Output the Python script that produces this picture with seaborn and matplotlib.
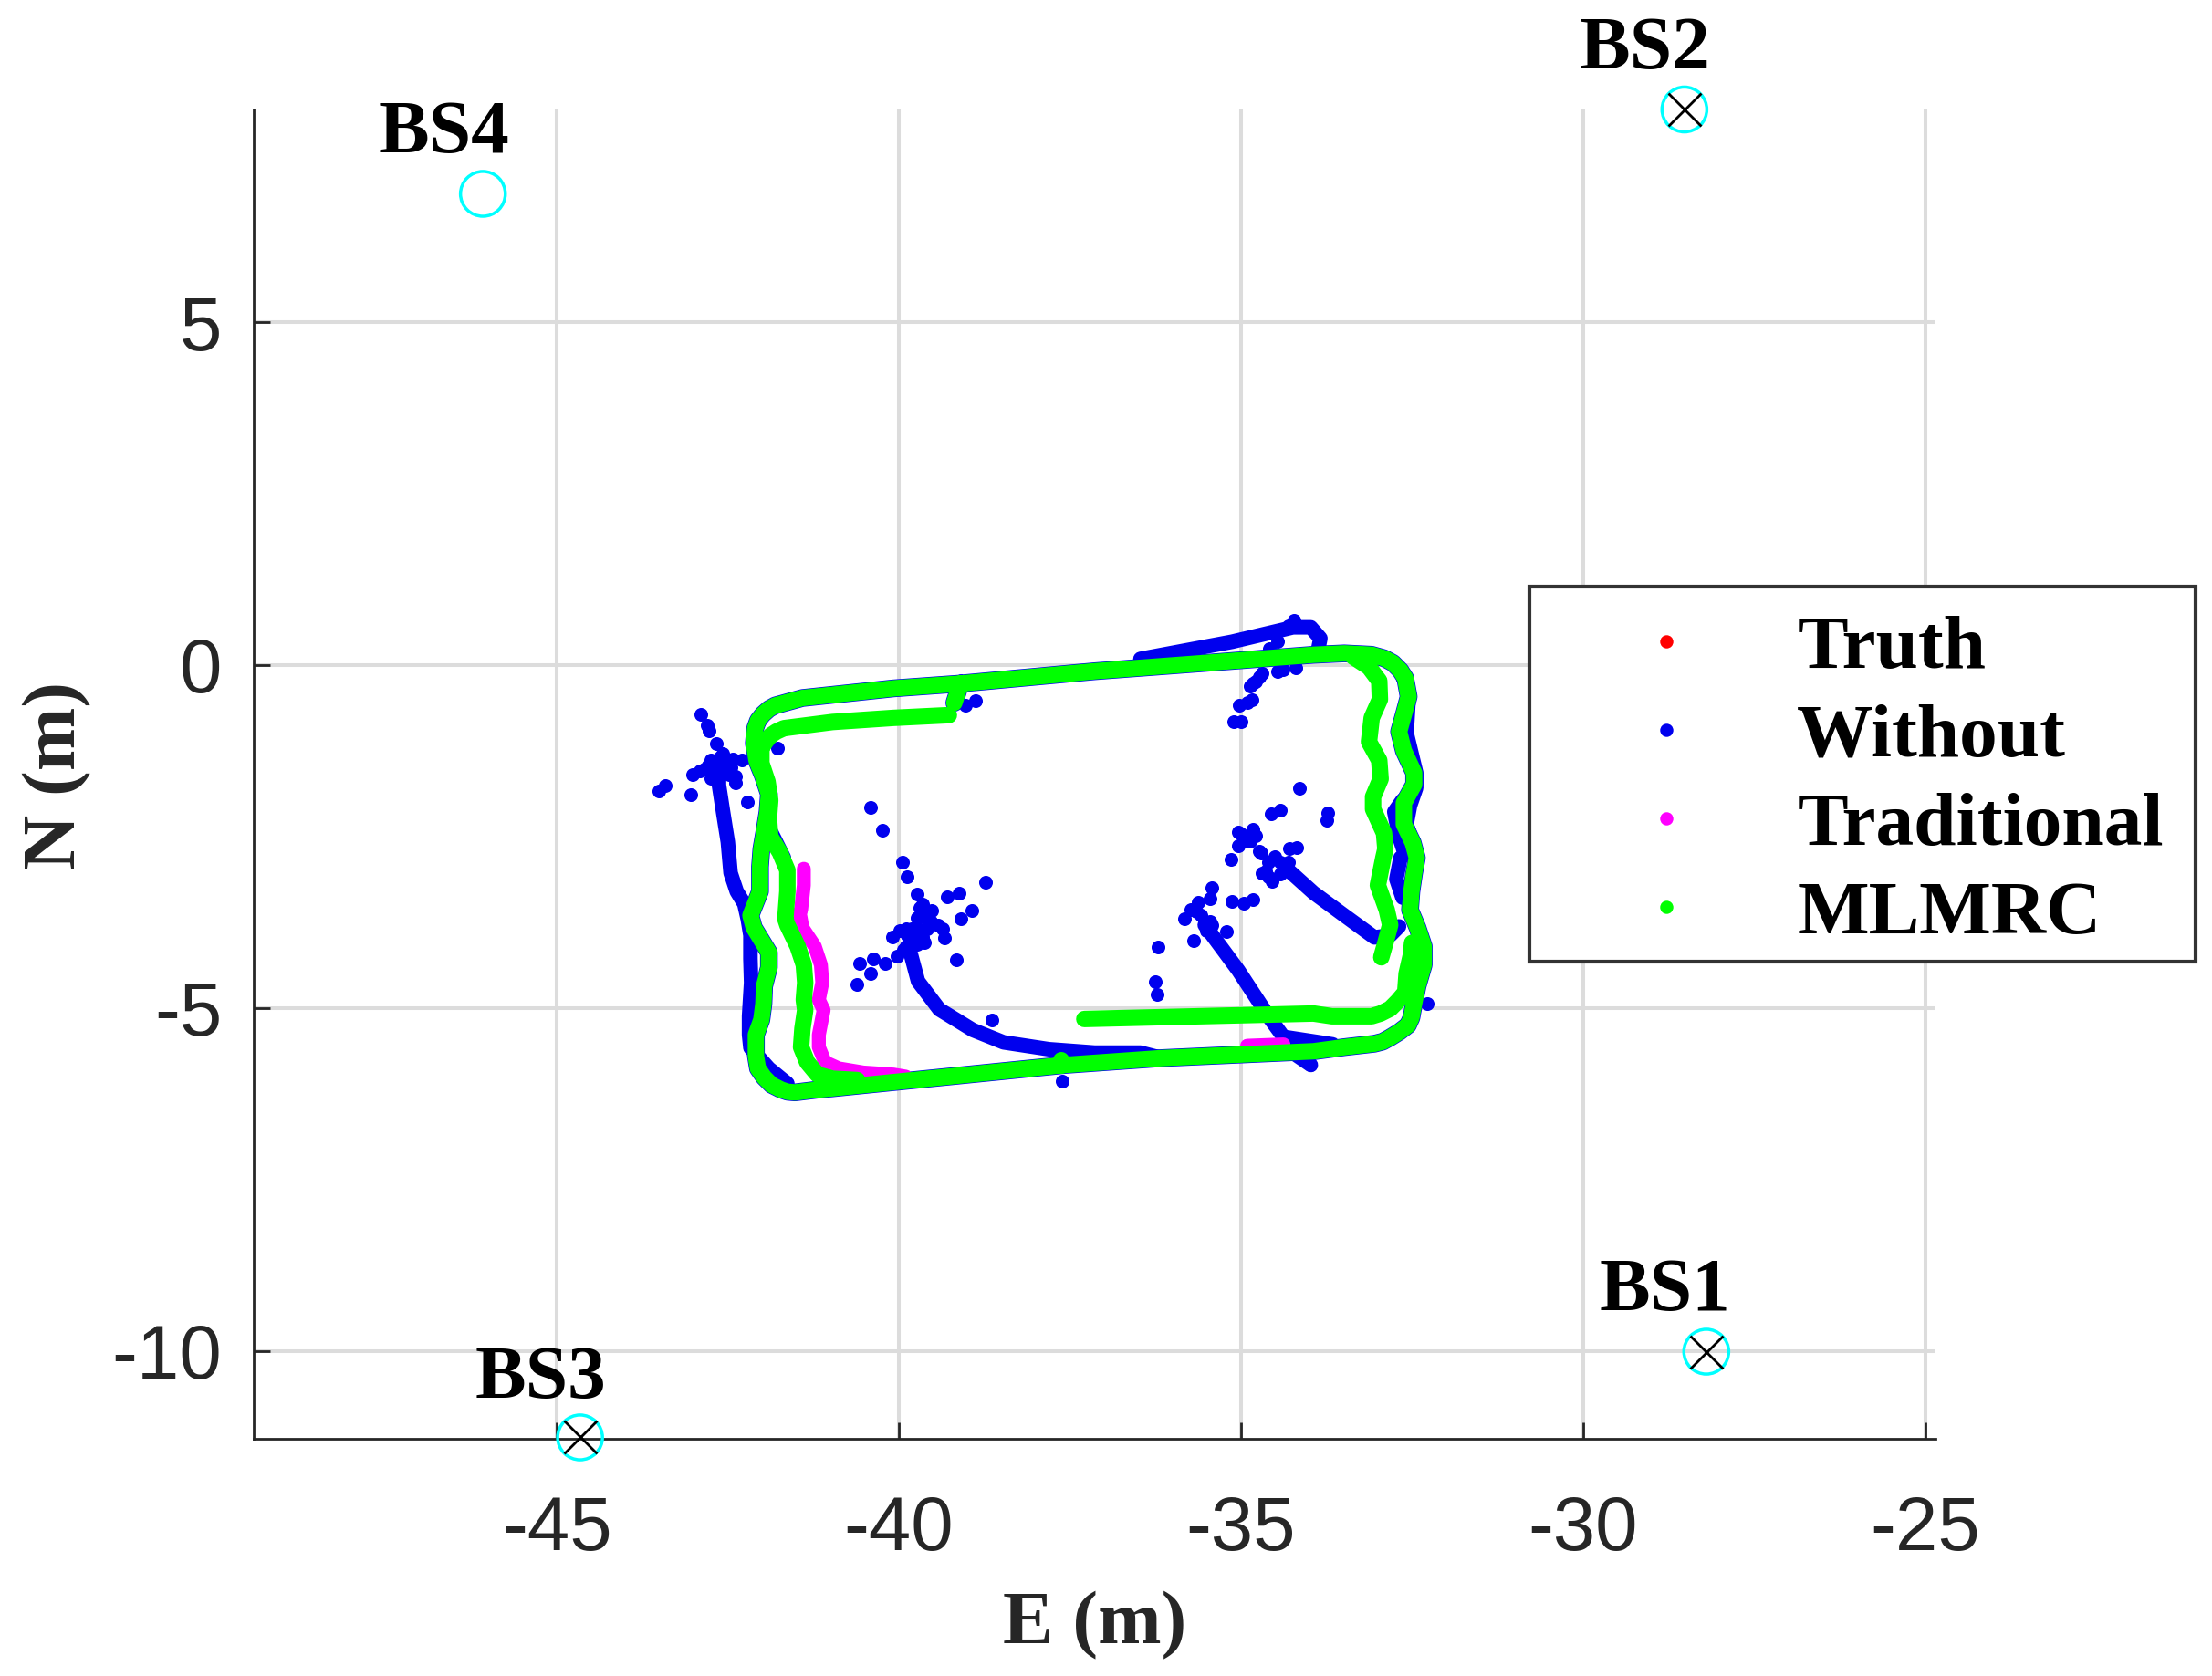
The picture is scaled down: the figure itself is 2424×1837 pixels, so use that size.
import matplotlib
matplotlib.use("Agg")
import matplotlib.pyplot as plt
from matplotlib.lines import Line2D
from matplotlib.patches import Rectangle
import pandas as pd
import seaborn as sns

# ---------- values (E, N in metres) ----------
bs_names = ["BS1", "BS2", "BS3", "BS4"]
bs_e = [-28.2, -28.52, -44.66, -46.08]
bs_n = [-10.01, 8.1, -11.26, 6.87]
bs_crossed = [True, True, True, False]

mlmrc_outer = [(-39.19,-0.55),(-39.1,-0.27),(-40.08,-0.34),(-41.41,-0.48),(-41.81,-0.59),(-41.90,-0.64),(-41.99,-0.72),
    (-42.06,-0.81),(-42.10,-0.92),(-42.12,-1.14),(-42.08,-1.39),(-41.99,-1.61),(-41.90,-1.88),(-41.92,-2.14),
    (-41.97,-2.45),(-42.01,-2.68),(-42.03,-2.94),(-42.03,-3.30),(-42.17,-3.65),(-42.12,-3.83),(-42.01,-4.01),
    (-41.90,-4.19),(-41.90,-4.41),(-41.97,-4.68),(-41.98,-4.94),(-42.01,-5.17),(-42.09,-5.39),(-42.09,-5.70),
    (-42.06,-5.88),(-41.97,-6.01),(-41.86,-6.12),(-41.72,-6.19),(-41.63,-6.22),(-41.52,-6.23),(-41.19,-6.19),
    (-40.97,-6.17),(-40.08,-6.08),(-37.58,-5.83),(-36.16,-5.73),(-33.94,-5.63),(-33.49,-5.57),(-33.05,-5.52),
    (-32.93,-5.49),(-32.82,-5.43),(-32.69,-5.35),(-32.56,-5.25),(-32.51,-5.14),(-32.49,-5.03),(-32.42,-4.68),
    (-32.33,-4.37),(-32.33,-4.10),(-32.42,-3.83),(-32.53,-3.57),(-32.51,-3.30),(-32.47,-3.03),(-32.43,-2.81),
    (-32.49,-2.59),(-32.62,-2.32),(-32.62,-2.01),(-32.47,-1.74),(-32.47,-1.57),(-32.62,-1.25),(-32.69,-0.97),
    (-32.62,-0.72),(-32.55,-0.46),(-32.60,-0.19),(-32.67,-0.08),(-32.78,0.03),(-32.91,0.10),(-33.09,0.15),
    (-33.49,0.17),(-33.94,0.15),(-35.13,0.06),(-37.14,-0.09),(-39.1,-0.27)]
mlmrc_inner_left = [(-39.27,-0.73),(-40.08,-0.77),(-40.97,-0.83),(-41.68,-0.92),(-41.79,-0.97),(-41.88,-1.03),
    (-41.95,-1.12),(-42.01,-1.21),(-42.01,-1.43),(-41.92,-1.70),(-41.88,-1.97),(-41.90,-2.23),(-41.88,-2.50),
    (-41.74,-2.73),(-41.63,-2.99),(-41.63,-3.30),(-41.66,-3.70),(-41.63,-3.79),(-41.48,-4.10),(-41.39,-4.37),
    (-41.37,-4.63),(-41.39,-4.88),(-41.37,-5.03),(-41.41,-5.30),(-41.43,-5.57),(-41.34,-5.79),(-41.19,-5.97),
    (-40.97,-6.03),(-40.61,-6.05)]
mlmrc_inner_right = [(-32.95,-4.26),(-32.89,-4.05),(-32.82,-3.79),(-32.87,-3.57),(-33.0,-3.21),(-32.92,-2.81),
    (-32.89,-2.68),(-32.91,-2.45),(-33.07,-2.10),(-33.07,-1.92),(-32.96,-1.66),(-32.98,-1.39),(-33.13,-1.12),
    (-33.09,-0.77),(-32.97,-0.50),(-32.98,-0.23),(-33.13,-0.03),(-33.36,0.12)]
mlmrc_inner_bottom = [(-37.29,-5.16),(-33.94,-5.08),(-33.67,-5.12),(-33.09,-5.12),(-32.96,-5.08),(-32.82,-5.01),
    (-32.71,-4.90),(-32.60,-4.77),(-32.58,-4.50),(-32.52,-4.24),(-32.5,-4.05)]
mlmrc_bump = [(-37.63,-5.76),(-37.63,-5.84)]

traditional_left = [(-41.39,-2.97),(-41.39,-3.21),(-41.43,-3.57),(-41.45,-3.61),(-41.41,-3.83),(-41.23,-4.10),
    (-41.14,-4.37),(-41.12,-4.63),(-41.17,-4.88),(-41.10,-5.03),(-41.17,-5.39),(-41.17,-5.57),(-41.08,-5.79),
    (-40.88,-5.88),(-40.52,-5.94),(-40.08,-5.97),(-39.9,-6.0)]
traditional_bottom = [(-34.91,-5.55),(-34.38,-5.53)]

without_left = [(-42.63,-1.49),(-42.63,-1.75),(-42.57,-2.14),(-42.50,-2.58),(-42.46,-3.03),(-42.37,-3.30),
    (-42.26,-3.48),(-42.21,-3.70),(-42.17,-3.94),(-42.17,-4.28),(-42.16,-4.63),(-42.19,-5.12),(-42.19,-5.39),
    (-42.17,-5.58),(-41.9,-5.88),(-41.63,-6.10)]
without_centre = [(-39.83,-4.2),(-39.72,-4.61),(-39.41,-5.02),(-38.92,-5.32),(-38.47,-5.5),(-37.81,-5.6),
    (-37.14,-5.65),(-36.47,-5.65),(-36.16,-5.73)]
without_mid = [(-35.53,-3.79),(-35.04,-4.45),(-34.6,-5.12),(-34.38,-5.42),(-33.66,-5.53)]
without_spur = [(-34.2,-5.68),(-33.98,-5.83)]
without_right = [(-34.33,-2.97),(-33.94,-3.32),(-33.49,-3.65),(-33.05,-3.97),(-32.82,-3.94),(-32.69,-3.81)]
without_top = [(-36.47,0.09),(-35.13,0.34),(-34.24,0.55),(-33.98,0.55),(-33.84,0.39),(-33.87,0.24)]
without_lobe = [(-32.67,-2.81),(-32.73,-3.12),(-32.64,-3.39)]
without_lobe2 = [(-32.64,-1.97),(-32.76,-2.14),(-32.69,-2.50),(-32.60,-2.77)]
without_edge = [(-32.55,-0.50),(-32.58,-0.99),(-32.44,-1.57),(-32.44,-1.79),(-32.53,-2.05),(-32.58,-2.32),(-32.49,-2.59)]
without_edge2 = [(-41.86,-2.45),(-41.68,-2.81)]

without_dots_e = [-42.89,-42.80,-42.77,-42.67,-42.57,-42.30,-42.43,-42.79,-43.01,-42.39,-42.75,-42.48,-42.61,
    -43.41,-43.51,-43.04,-42.21,-41.78,-38.88,-39.03,-40.42,-40.24,-39.95,-39.88,-39.73,-39.65,-39.52,-39.29,
    -39.12,-38.73,-38.93,-39.09,-39.43,-39.33,-39.16,-39.99,-40.1,-39.81,-39.72,-39.9,-40.03,-40.2,-40.37,
    -40.57,-40.42,-40.61,-38.64,-37.61,-39.59,-34.22,-34.31,-34.47,-34.58,-34.69,-34.82,-34.87,-34.84,-35.02,
    -34.91,-35.11,-35.0,-34.38,-34.2,-34.15,-34.42,-34.56,-33.73,-33.74,-34.82,-35.04,-34.78,-34.96,-35.04,
    -34.18,-34.29,-35.14,-34.51,-34.31,-34.64,-34.55,-34.42,-34.73,-35.43,-34.82,-34.96,-35.13,-35.45,-35.62,
    -35.73,-35.83,-35.45,-35.21,-35.69,-36.21,-36.25,-36.22,-33.98,-32.28,
    -42.70,-42.57,-42.46,-42.68,-42.52,-42.61,-42.84,-42.75,-42.39,-42.91,
    -39.70,-39.74,-39.61,-39.79,-39.88,-39.65,-39.83,-39.74,-39.94,-39.54,-39.63,-39.36,-39.90,-39.72,
    -34.91,-34.87,-34.71,-34.60,-34.69,-34.60,-34.42,-35.0,
    -35.58,-35.53,-35.65,-35.51,-35.42,-34.73,-34.78,-34.47]
without_dots_n = [-0.72,-0.88,-0.96,-1.15,-1.29,-1.38,-1.37,-1.47,-1.60,-1.72,-1.65,-1.6,-1.44,
    -1.75,-1.84,-1.89,-2.0,-1.21,-0.52,-0.58,-2.08,-2.41,-2.88,-3.08,-3.34,-3.48,-3.58,-3.38,
    -3.32,-3.17,-3.58,-3.70,-3.79,-3.98,-4.30,-3.87,-3.97,-3.84,-3.99,-4.1,-4.25,-4.35,-4.29,
    -4.35,-4.49,-4.66,-5.17,-6.06,-3.84,0.65,0.57,0.34,0.24,-0.12,-0.27,-0.3,-0.5,-0.59,
    -0.55,-0.83,-0.83,-0.07,-0.04,-1.79,-2.11,-2.17,-2.15,-2.26,-2.39,-2.44,-2.49,-2.57,-2.64,
    -2.66,-2.67,-2.83,-2.8,-2.87,-3.0,-3.15,-3.05,-2.72,-3.24,-3.42,-3.47,-3.45,-3.41,-3.46,
    -3.56,-3.7,-3.74,-3.88,-4.02,-4.11,-4.61,-4.8,-5.83,-4.94,
    -1.49,-1.55,-1.49,-1.65,-1.39,-1.34,-1.52,-1.39,-1.62,-1.55,
    -3.54,-3.69,-3.69,-3.84,-3.94,-3.97,-4.10,-4.07,-4.15,-3.74,-4.05,-3.84,-3.84,-3.84,
    -2.52,-2.57,-2.74,-2.87,-3.03,-3.08,-2.87,-2.46,
    -3.64,-3.74,-3.59,-3.87,-3.79,-0.17,-0.24,-0.09]

legend_labels = ["Truth", "Without", "Traditional", "MLMRC"]
x_ticks = [-45, -40, -35, -30, -25]
y_ticks = [-10, -5, 0, 5]

# ---------- styles ----------
BLUE, MAGENTA, GREEN, RED = "#0000ee", "#ff00ff", "#00ff00", "#ff0000"
INK = "#262626"
SERIF = "Liberation Serif"
SANS = "Liberation Sans"

sns.set_theme(style="white")
W, H = 2424, 1837
fig = plt.figure(figsize=(W / 100, H / 100), dpi=100)
ax = fig.add_axes([278 / W, 1 - 1577 / H, (2121 - 278) / W, (1577 - 120) / H])


def frame(tr):
    rows = [(i, e, n) for i, t in enumerate(tr) for e, n in t]
    return pd.DataFrame(rows, columns=["track", "E", "N"])


def tracks(tr, color, lw, z):
    sns.lineplot(data=frame(tr), x="E", y="N", units="track", estimator=None, sort=False,
                 color=color, lw=lw, ax=ax, zorder=z, legend=False,
                 solid_capstyle="round", solid_joinstyle="round")


tracks([mlmrc_outer], BLUE, 14, 3)
tracks([without_left, without_centre, without_mid, without_spur, without_right, without_top,
        without_lobe, without_lobe2, without_edge, without_edge2], BLUE, 11.5, 3)
sns.scatterplot(x=without_dots_e, y=without_dots_n, color=BLUE, s=117, linewidth=0, ax=ax, zorder=3, legend=False)
tracks([traditional_left, traditional_bottom], MAGENTA, 11, 4)
tracks([mlmrc_outer, mlmrc_inner_left, mlmrc_inner_right, mlmrc_inner_bottom, mlmrc_bump], GREEN, 13, 5)

# base stations
sns.scatterplot(x=bs_e, y=bs_n, s=1250, facecolor="none", edgecolor="#00ffff", linewidth=2.5,
                ax=ax, zorder=6, clip_on=False, legend=False)
cross_e = [e for e, c in zip(bs_e, bs_crossed) if c]
cross_n = [n for n, c in zip(bs_n, bs_crossed) if c]
ax.plot(cross_e, cross_n, ls="none", marker="x", ms=26, mew=2, color="black", zorder=7, clip_on=False)

label_pos = {"BS1": (-28.8, -9.15), "BS2": (-29.1, 8.96), "BS3": (-45.23, -10.42), "BS4": (-46.65, 7.74)}
for name in bs_names:
    ax.text(*label_pos[name], name, family=SERIF, weight="bold", fontsize=60, color="black",
            ha="center", va="center", clip_on=False, zorder=8)

ax.set_xlim(-49.43, -24.85)
ax.set_ylim(-11.28, 8.1)
ax.set_xticks(x_ticks)
ax.set_yticks(y_ticks)
ax.set_xticklabels([str(v) for v in x_ticks], family=SANS, fontsize=60, color=INK)
ax.set_yticklabels([str(v) for v in y_ticks], family=SANS, fontsize=60, color=INK)
ax.grid(True, color="#dcdcdc", lw=2.9)
ax.set_axisbelow(True)
ax.tick_params(direction="in", length=13, width=2, color=INK, bottom=True, left=True)
ax.tick_params(axis="x", pad=44)
ax.tick_params(axis="y", pad=25)
for s in ("top", "right"):
    ax.spines[s].set_visible(False)
for s in ("left", "bottom"):
    ax.spines[s].set_color(INK)
    ax.spines[s].set_linewidth(2)
ax.set_xlabel("E (m)", family=SERIF, weight="bold", fontsize=60, color=INK, va="center", ha="center")
ax.set_ylabel("N (m)", family=SERIF, weight="bold", fontsize=60, color=INK, va="center", ha="center")
ax.xaxis.set_label_coords((1200 - 278) / (2121 - 278), -(1782 - 1577) / (1577 - 120), transform=ax.transAxes)
ax.yaxis.set_label_coords(-(278 - 63) / (2121 - 278), (1577 - 850) / (1577 - 120), transform=ax.transAxes)

fig.add_artist(Rectangle((1676 / W, 1 - 1054 / H), 730 / W, 411 / H, transform=fig.transFigure,
                         facecolor="white", edgecolor="#333333", linewidth=3, zorder=9))
handles = [Line2D([], [], ls="none", marker="o", ms=10.4, mew=0, color=c) for c in (RED, BLUE, MAGENTA, GREEN)]
leg = fig.legend(handles, legend_labels, loc="upper left",
                 bbox_to_anchor=(1676 / W, 1 - 651 / H), bbox_transform=fig.transFigure,
                 prop={"family": SERIF, "weight": "bold", "size": 60}, frameon=False,
                 borderaxespad=0, borderpad=0.27, labelspacing=0.25, handletextpad=0.19, handlelength=3.06,
                 labelcolor="black")
leg.set_zorder(10)

fig.savefig("out.png", dpi=100)
